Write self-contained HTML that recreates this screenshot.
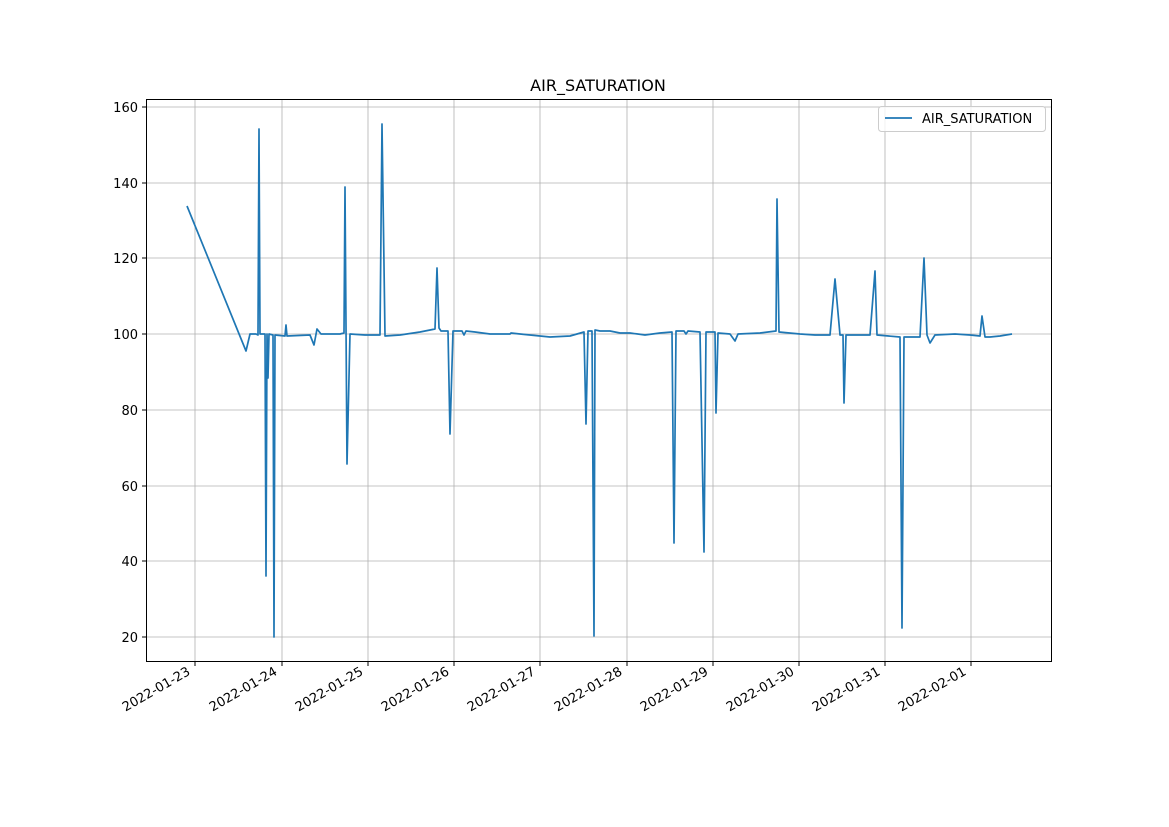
<!DOCTYPE html>
<html><head><meta charset="utf-8"><style>
html,body{margin:0;padding:0;background:#fff;}
svg{display:block;font-family:"DejaVu Sans","Liberation Sans",sans-serif;}
</style></head><body>
<svg width="1169" height="827" xmlns="http://www.w3.org/2000/svg">
<rect width="1169" height="827" fill="#fff"/>
<g stroke="#b0b0b0" stroke-width="0.8">
<line x1="195" y1="99" x2="195" y2="662"/><line x1="282" y1="99" x2="282" y2="662"/>
<line x1="368" y1="99" x2="368" y2="662"/><line x1="454" y1="99" x2="454" y2="662"/>
<line x1="540" y1="99" x2="540" y2="662"/><line x1="627" y1="99" x2="627" y2="662"/>
<line x1="713" y1="99" x2="713" y2="662"/><line x1="799" y1="99" x2="799" y2="662"/>
<line x1="885" y1="99" x2="885" y2="662"/><line x1="971" y1="99" x2="971" y2="662"/>
<line x1="146" y1="637" x2="1052" y2="637"/><line x1="146" y1="561" x2="1052" y2="561"/>
<line x1="146" y1="486" x2="1052" y2="486"/><line x1="146" y1="410" x2="1052" y2="410"/>
<line x1="146" y1="334" x2="1052" y2="334"/><line x1="146" y1="258" x2="1052" y2="258"/>
<line x1="146" y1="183" x2="1052" y2="183"/><line x1="146" y1="107" x2="1052" y2="107"/>
</g>
<polyline fill="none" stroke="#1f77b4" stroke-width="1.7" stroke-linejoin="round" points="187,206 246,351 250,334 256,334 258,335 259,129 260,334 265,334 266,576 267,334 268,378 269,334 273,335 274,637 275,335 285,336 286,325 287,336 310,335 314,345 317,329 321,334 340,334 344,333 345,187 347,464 350,334 365,335 380,335 382,124 385,336 400,335 420,332 435,329 437,268 439,328 441,331 448,331 450,434 453,331 462,331 464,335 466,331 475,332 490,334 510,334 511,333 520,334 540,336 550,337 570,336 584,332 586,424 588,331 592,331 594,636 595,330 600,331 610,331 620,333 630,333 645,335 660,333 672,332 674,543 676,331 684,331 686,334 688,331 700,332 704,552 706,332 715,332 716,413 718,333 730,334 735,341 738,334 760,333 776,331 777,199 779,332 800,334 815,335 830,335 835,279 840,335 843,335 844,403 846,335 870,335 875,271 877,335 900,337 902,628 904,337 920,337 924,258 927,335 930,343 935,335 955,334 970,335 980,336 982,316 985,337 990,337 1000,336 1012,334"/>
<rect x="146.5" y="99.5" width="905" height="562" fill="none" stroke="#000" stroke-width="1"/>
<g stroke="#000" stroke-width="1">
<line x1="195" y1="662" x2="195" y2="666"/><line x1="282" y1="662" x2="282" y2="666"/>
<line x1="368" y1="662" x2="368" y2="666"/><line x1="454" y1="662" x2="454" y2="666"/>
<line x1="540" y1="662" x2="540" y2="666"/><line x1="627" y1="662" x2="627" y2="666"/>
<line x1="713" y1="662" x2="713" y2="666"/><line x1="799" y1="662" x2="799" y2="666"/>
<line x1="885" y1="662" x2="885" y2="666"/><line x1="971" y1="662" x2="971" y2="666"/>
<line x1="142" y1="637" x2="146" y2="637"/><line x1="142" y1="561" x2="146" y2="561"/>
<line x1="142" y1="486" x2="146" y2="486"/><line x1="142" y1="410" x2="146" y2="410"/>
<line x1="142" y1="334" x2="146" y2="334"/><line x1="142" y1="258" x2="146" y2="258"/>
<line x1="142" y1="183" x2="146" y2="183"/><line x1="142" y1="107" x2="146" y2="107"/>
</g>
<g font-size="13" text-anchor="end" fill="#000">
<text x="138" y="642">20</text><text x="138" y="566">40</text><text x="138" y="491">60</text>
<text x="138" y="415">80</text><text x="138" y="339">100</text><text x="138" y="263">120</text>
<text x="138" y="188">140</text><text x="138" y="112">160</text>
</g>
<g font-size="13" text-anchor="end" fill="#000">
<text transform="translate(191,674) rotate(-30)">2022-01-23</text>
<text transform="translate(278,674) rotate(-30)">2022-01-24</text>
<text transform="translate(364,674) rotate(-30)">2022-01-25</text>
<text transform="translate(450,674) rotate(-30)">2022-01-26</text>
<text transform="translate(536,674) rotate(-30)">2022-01-27</text>
<text transform="translate(623,674) rotate(-30)">2022-01-28</text>
<text transform="translate(709,674) rotate(-30)">2022-01-29</text>
<text transform="translate(795,674) rotate(-30)">2022-01-30</text>
<text transform="translate(881,674) rotate(-30)">2022-01-31</text>
<text transform="translate(967,674) rotate(-30)">2022-02-01</text>
</g>
<text x="598" y="91" font-size="16" text-anchor="middle" fill="#000">AIR_SATURATION</text>
<rect x="878.5" y="106.5" width="167" height="25" rx="3" fill="#fff" fill-opacity="0.8" stroke="#ccc"/>
<line x1="885" y1="118" x2="912" y2="118" stroke="#1f77b4" stroke-width="1.7"/>
<text x="922" y="123" font-size="13" fill="#000">AIR_SATURATION</text>
</svg>
</body></html>
